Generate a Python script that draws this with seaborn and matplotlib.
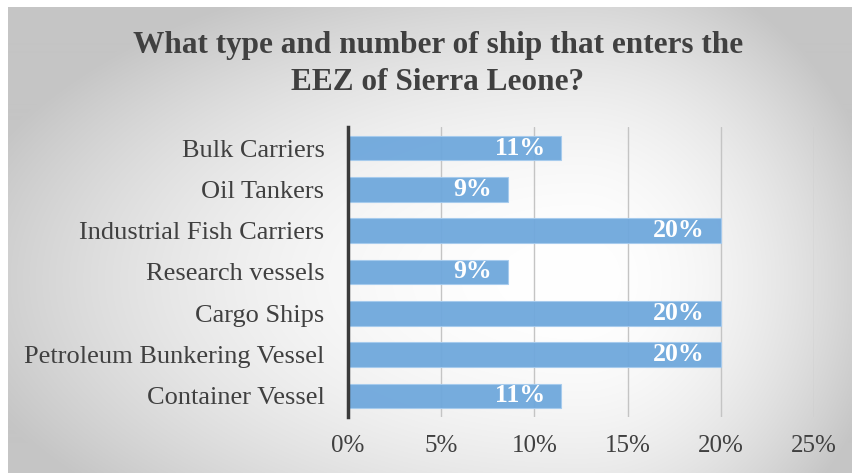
import numpy as np
import pandas as pd
import matplotlib
matplotlib.use("Agg")
import matplotlib.pyplot as plt
import seaborn as sns

# Ship categories and counts (out of 35 responses)
categories = [
    "Bulk Carriers",
    "Oil Tankers",
    "Industrial Fish Carriers",
    "Research vessels",
    "Cargo Ships",
    "Petroleum Bunkering Vessel",
    "Container Vessel",
]
counts = [4, 3, 7, 3, 7, 7, 4]
total = sum(counts)
shares = [c / total * 100 for c in counts]
x_ticks = [0, 5, 10, 15, 20, 25]
x_tick_labels = ["0%", "5%", "10%", "15%", "20%", "25%"]
title = "What type and number of ship that enters the\nEEZ of Sierra Leone?"

df = pd.DataFrame({"category": categories, "share": shares})

sns.set_theme(style="white")
plt.rcParams["font.family"] = ["Liberation Serif", "DejaVu Serif"]

W, H = 853, 473
fig = plt.figure(figsize=(W / 100, H / 100), dpi=100)
fig.patch.set_facecolor("white")

# Radial grey-to-white background panel
bx0, by0 = 8, 7
bg = fig.add_axes([bx0 / W, 0, 1 - bx0 / W, 1 - by0 / H], zorder=0)
yy, xx = np.mgrid[by0:H, bx0:W].astype(float)
cx, cy = 580, 280
dx = xx - cx
dy = yy - cy
rx = np.where(dx < 0, 640, 310)
ry = np.where(dy < 0, 330, 320)
t = np.clip(np.sqrt((dx / rx) ** 2 + (dy / ry) ** 2), 0, 1) ** 2.0
val = (255 - 58 * t) / 255.0
bg.imshow(np.dstack([val, val, val]), aspect="auto", interpolation="bilinear")
bg.set_axis_off()

# Main bar axes
left, right = 348 / W, 814 / W
bottom, top = 1 - 416.6 / H, 1 - 127.4 / H
ax = fig.add_axes([left, bottom, right - left, top - bottom], zorder=1)
ax.patch.set_alpha(0)

sns.barplot(data=df, y="category", x="share", orient="h", ax=ax,
            color="#6fa8dc", saturation=1, alpha=0.95, width=0.6,
            edgecolor="#a6cbee", linewidth=0.8, zorder=3)

ax.set_xlim(0, 25)
ax.set_ylim(len(categories) - 0.5, -0.5)
ax.set_xticks(x_ticks)
ax.set_xticklabels(x_tick_labels)
ax.set_xlabel("")
ax.set_ylabel("")
for xv in x_ticks[1:]:
    ax.axvline(xv, color="#c4c4c4", linewidth=1.0, zorder=1)

for s in ["top", "right", "bottom"]:
    ax.spines[s].set_visible(False)
ax.spines["left"].set_color("#3a3a3a")
ax.spines["left"].set_linewidth(2.5)
ax.spines["left"].set_zorder(5)

ax.tick_params(axis="x", length=0, pad=13, labelsize=18, labelcolor="#404040")
ax.tick_params(axis="y", length=0, pad=17, labelsize=19, labelcolor="#404040")

# Value labels inside bar ends
for i, v in enumerate(shares):
    ax.text(v - 0.85, i, f"{v:.0f}%", ha="right", va="center",
            color="white", fontsize=18.5, fontweight="bold", zorder=6)

fig.text(438 / W, 1 - 64 / H, title, ha="center", va="center",
         fontsize=22.5, fontweight="bold", color="#404040", linespacing=1.38)

fig.savefig("out.png", dpi=100)
